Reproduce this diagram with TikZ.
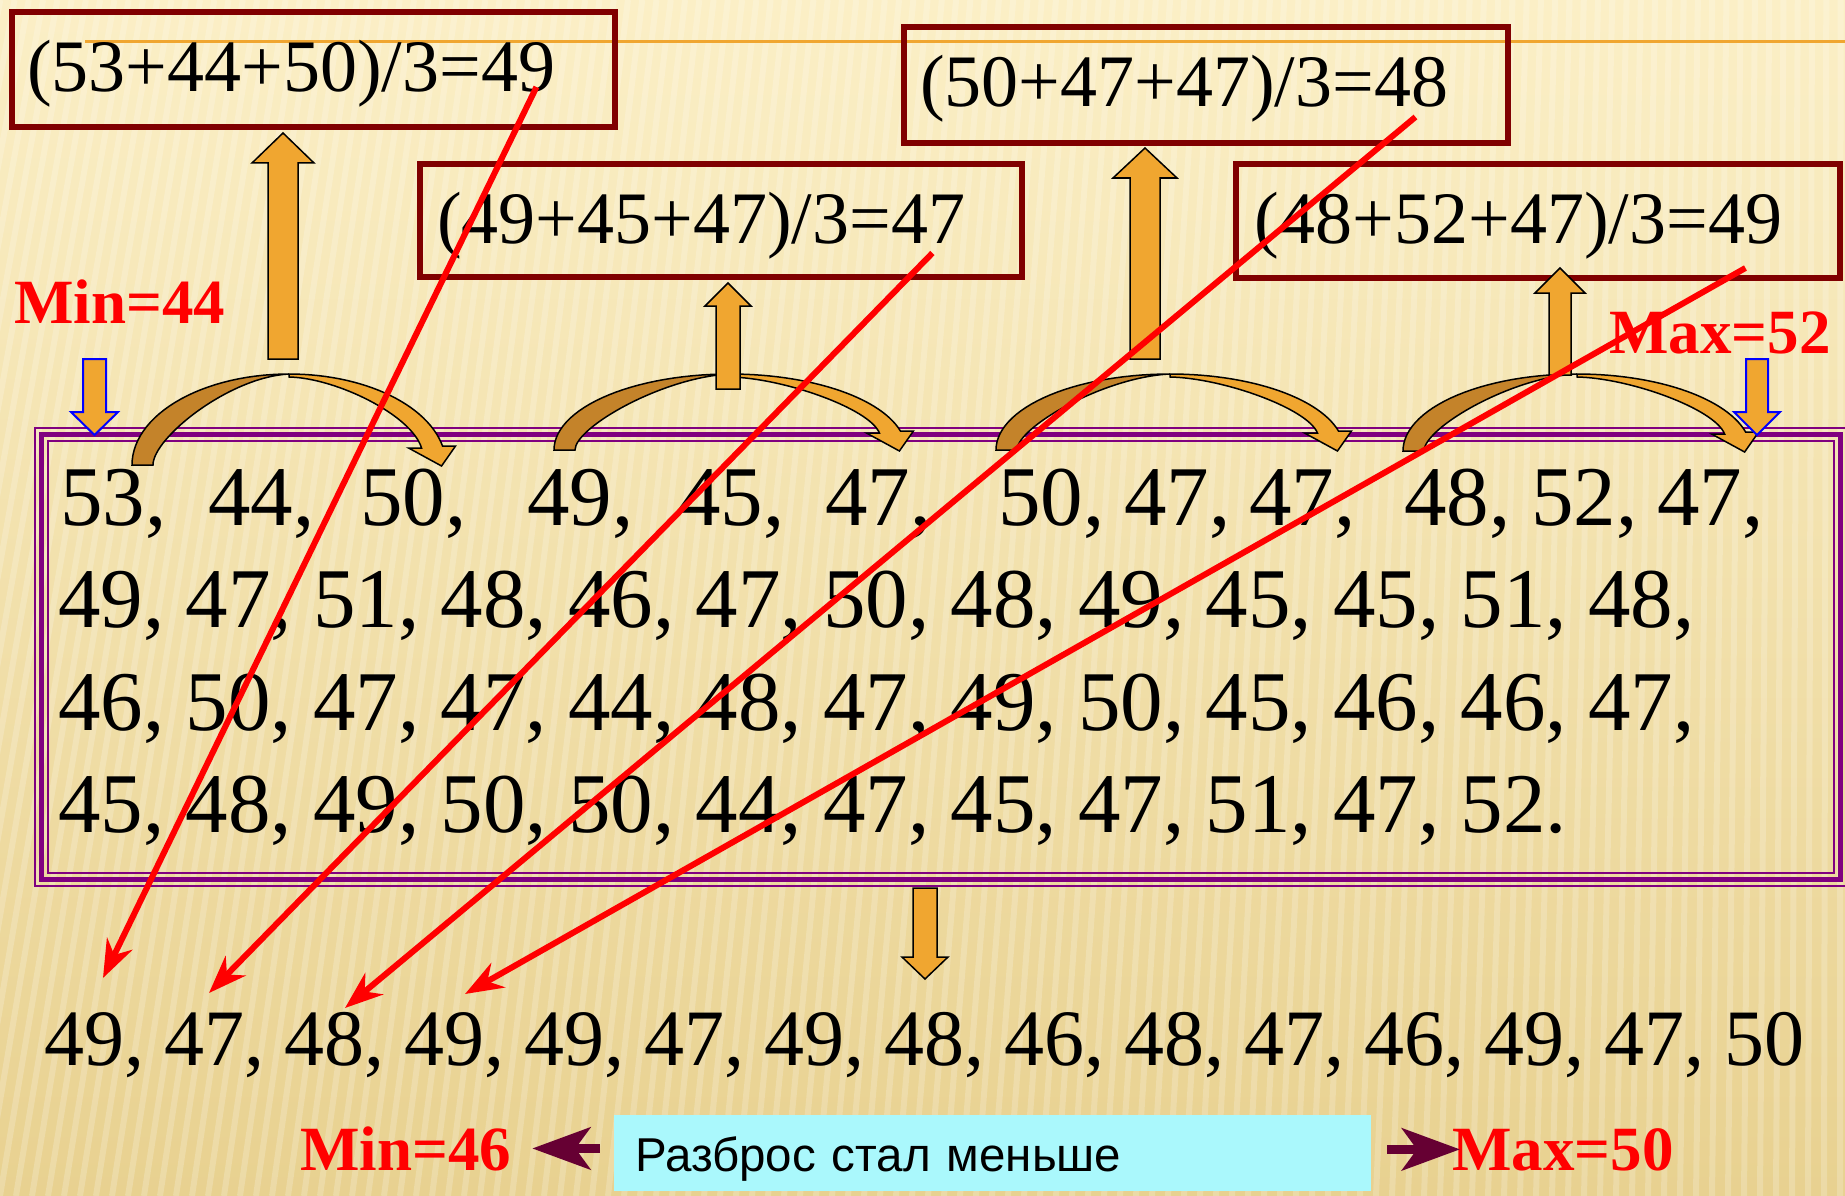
\documentclass[tikz,border=0pt]{standalone}
\usepackage{fontspec}
\setmainfont{Liberation Serif}
\newfontfamily\notefont{Liberation Sans}
\usepackage{tikz}
\usetikzlibrary{arrows.meta,calc}

\definecolor{bgtop}{HTML}{FBEFC6}
\definecolor{bgbot}{HTML}{E8D190}
\definecolor{arrorange}{HTML}{F0A630}
\definecolor{arrdark}{HTML}{C4832A}
\definecolor{boxred}{HTML}{800000}
\definecolor{framepurple}{HTML}{800080}
\definecolor{spreadmaroon}{HTML}{660033}
\definecolor{notecyan}{HTML}{AAF8FC}

% centre x, tip y, head base y, end y, half shaft, half head
\newcommand{\blockarrow}[7][]{%
  \filldraw[blockarr,#1] (#2-#6,#5) -- (#2-#6,#4) -- (#2-#7,#4) -- (#2,#3)
    -- (#2+#7,#4) -- (#2+#6,#4) -- (#2+#6,#5) -- cycle;}

% foot x, half width, base y, height
\newcommand{\bendarrow}[4]{%
  \pgfmathsetmacro{\hang}{asin(19/#4)}%
  \pgfmathsetmacro{\px}{#2+#2*cos(\hang)}%
  \begin{scope}[shift={(#1,#3)}]
    \filldraw[bendback] plot[domain=180:90,samples=30] ({#2+#2*cos(\x)},{-#4*sin(\x)})
      .. controls ({0.62*#2},{3-#4}) and (21,{-0.3*#4}) .. (21,0) -- cycle;
    \filldraw[bendfront] plot[domain=90:\hang,samples=30] ({#2+#2*cos(\x)},{-#4*sin(\x)})
      -- (\px+13,-19) -- (\px-1,1) -- (\px-34,-17) -- (\px-21,-17)
      .. controls (\px-31,{-0.55*#4}) and ({1.3*#2},{4-#4}) .. (#2,{3-#4}) -- cycle;
  \end{scope}}

\begin{document}
\begin{tikzpicture}[x=1pt, y=-1pt,
  avgbox/.style={draw=boxred, line width=6pt},
  avgtext/.style={font=\fontsize{74}{80}\selectfont, inner sep=0pt, anchor=base west},
  numtext/.style={font=\fontsize{85}{90}\selectfont, inner sep=0pt, anchor=base west},
  restext/.style={font=\fontsize{80}{86}\selectfont, inner sep=0pt, anchor=base west},
  minmax/.style={font=\fontsize{63}{70}\selectfont\bfseries, text=red, inner sep=0pt, anchor=base west},
  blockarr/.style={fill=arrorange, draw=black, line width=1.5pt},
  bluearr/.style={draw=blue, line width=2pt},
  bendback/.style={fill=arrdark, draw=black, line width=1.5pt},
  bendfront/.style={fill=arrorange, draw=black, line width=1.5pt},
  redline/.style={draw=red, line width=6pt, -{Stealth[length=38pt,width=28pt]}},
  spreadarr/.style={draw=spreadmaroon, line width=9pt, -{Stealth[length=58pt,width=42pt,inset=15pt]}},
  spreadbox/.style={fill=notecyan, font=\notefont\fontsize{47.5}{52}\selectfont,
    text width=715pt, align=left, inner xsep=21pt, inner ysep=0pt,
    text height=36pt, text depth=0pt, minimum height=76pt}]

  \useasboundingbox (0,0) rectangle (1845,1196);
  \shade[top color=bgtop, bottom color=bgbot] (0,0) rectangle (1845,1196);
  \foreach \b in {-320,-304,...,1845}
    \draw[white, opacity=0.2, line width=6pt] (\b,1196) -- ({\b+200*(1-\b/1845)},0);
  \draw[arrorange, line width=3pt] (85,42) -- (1845,42);

  % averages
  \draw[avgbox] (12,12) rectangle (615,127);
  \draw[avgbox] (420,164) rectangle (1022,277);
  \draw[avgbox] (904,27) rectangle (1508,143);
  \draw[avgbox] (1236,164) rectangle (1840,278);
  \node[avgtext] (t1) at (27,92) {(53+44+50)/3=49};
  \node[avgtext] (t2) at (437,243) {(49+45+47)/3=47};
  \node[avgtext] (t3) at (920,107) {(50+47+47)/3=48};
  \node[avgtext] (t4) at (1254,243) {(48+52+47)/3=49};

  \node[minmax] (min1) at (14,323) {Min=44};
  \node[minmax] (max1) at (1609,353) {Max=52};

  % data frame
  \draw[framepurple, line width=5pt] (41,434) rectangle (1840,879);
  \draw[framepurple, line width=2pt] (34.5,427.5) rectangle (1846.5,885.5);
  \draw[framepurple, line width=2pt] (47.5,440.5) rectangle (1833.5,872.5);

  \foreach \x/\v [count=\i] in {60/53, 208/44, 360/50, 527/49, 678/45, 825/47,
      998/50, 1124/47, 1249/47, 1404/48, 1531/52, 1657/47}
    \node[numtext] (top\i) at (\x,525) {\v,};
  \node[numtext] (row2) at (58,627) {49, 47, 51, 48, 46, 47, 50, 48, 49, 45, 45, 51, 48,};
  \node[numtext] (row3) at (58,730) {46, 50, 47, 47, 44, 48, 47, 49, 50, 45, 46, 46, 47,};
  \node[numtext] (row4) at (58,832) {45, 48, 49, 50, 50, 44, 47, 45, 47, 51, 47, 52.};

  \bendarrow{132}{157}{465}{91}
  \bendarrow{554}{176}{450}{76}
  \bendarrow{996}{174}{450}{76}
  \bendarrow{1403}{174}{451}{77}

  \blockarrow{283}{133}{163}{359}{15}{31}
  \blockarrow{728}{283}{306}{389}{12}{23}
  \blockarrow{1145}{148}{178}{359}{15}{32}
  \blockarrow{1560}{268}{293}{375}{11}{25}

  \blockarrow[bluearr]{94.5}{435}{412}{359}{11.5}{23.5}
  \blockarrow[bluearr]{1757}{435}{412}{359}{11}{23}
  \blockarrow{925}{979}{957}{888}{12}{23}

  % smoothed series
  \node[restext] (res) at (44,1065) {49, 47, 48, 49, 49, 47, 49, 48, 46, 48, 47, 46, 49, 47, 50};
  \coordinate (e1) at (103,978);
  \coordinate (e2) at (209,993);
  \coordinate (e3) at (345,1008);
  \coordinate (e4) at (465,994);

  \draw[redline] ([shift={(-19,-5)}]t1.base east) -- (e1);
  \draw[redline] ([shift={(-33,10)}]t2.base east) -- (e2);
  \draw[redline] ([shift={(-33,10)}]t3.base east) -- (e3);
  \draw[redline] ([shift={(-37,25)}]t4.base east) -- (e4);

  \node[spreadbox] (spread) at (992.5,1153) {Разброс стал меньше};
  \node[minmax] (minb) at (300,1170) {Min=46};
  \draw[spreadarr] ($(spread.west |- minb.east)+(-14,0)$) -- ($(minb.east)+(21,0)$);
  \node[minmax] (maxb) at (1452,1170) {Max=50};
  \draw[spreadarr] ($(spread.east |- maxb.west)+(16,0)$) -- ($(maxb.west)+(8,0)$);
\end{tikzpicture}
\end{document}
